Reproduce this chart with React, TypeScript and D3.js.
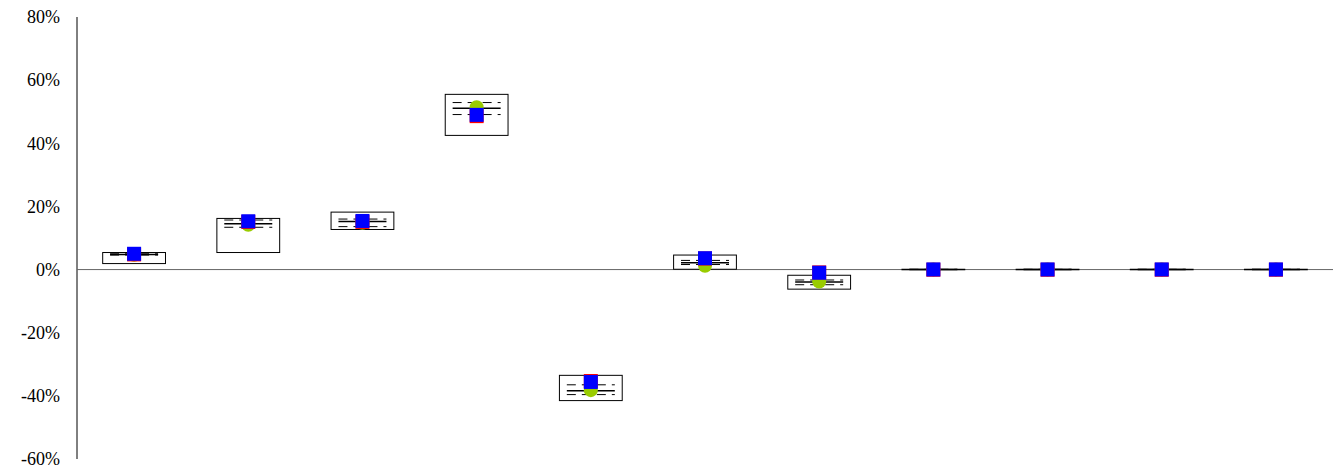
import React from "react";
import * as d3 from "d3";

const categories = ["1", "2", "3", "4", "5", "6", "7", "8", "9", "10", "11"];
// values in percent
const boxLow = [1.9, 5.4, 12.7, 42.5, -41.5, 0.1, -6.2, 0, 0, 0, 0];
const boxHigh = [5.4, 16.2, 18.2, 55.5, -33.5, 4.6, -1.8, 0.1, 0.1, 0.1, 0.1];
const upperLine = [5.0, 15.7, 16.0, 52.9, -36.5, 2.9, -3.3, 0.05, 0.05, 0.05, 0.05];
const midLine = [4.8, 14.5, 15.2, 51.1, -38.4, 2.2, -3.9, 0.05, 0.05, 0.05, 0.05];
const lowerLine = [4.6, 13.4, 13.6, 49.1, -39.6, 1.6, -4.8, 0.05, 0.05, 0.05, 0.05];
const greenVals = [4.7, 14.2, 14.8, 51.4, -38.2, 1.2, -3.8, 0.05, 0.05, 0.05, 0.05];
const redVals = [4.8, 15.1, 15.1, 48.6, -35.3, 3.5, -0.9, -0.05, -0.05, -0.05, -0.05];
const blueVals = [5.0, 15.3, 15.4, 49.0, -35.6, 3.6, -1.0, 0.05, 0.05, 0.05, 0.05];
const yTicks = [80, 60, 40, 20, 0, -20, -40, -60];

const App = () => {
  const width = 1338;
  const height = 469;
  const left = 77;
  const right = 1333;
  const top = 17;
  const bottom = 459;

  const x = d3.scaleBand().domain(categories).range([left, right]);
  const y = d3.scaleLinear().domain([-60, 80]).range([bottom, top]);

  const boxW = x.bandwidth() * 0.55;
  const lineW = 48;
  const sq = 14;

  return (
    <svg
      width={width}
      height={height}
      style={{ position: "absolute", left: 0, top: 0, background: "#fff" }}
    >
      <g fontFamily="'Liberation Serif', 'Times New Roman', serif" fontSize="18">
        {yTicks.map((t) => (
          <text key={t} x={60} y={y(t)} dy="0.35em" textAnchor="end" fill="#000">
            {t}%
          </text>
        ))}
      </g>
      <line x1={left} x2={left} y1={top} y2={bottom} stroke="#000" />
      <line x1={left} x2={right} y1={y(0)} y2={y(0)} stroke="#666" />
      {categories.map((c, i) => {
        const cx = x(c)! + x.bandwidth() / 2;
        const yt = y(boxHigh[i]);
        const yb = y(boxLow[i]);
        return (
          <g key={c}>
            <rect
              x={cx - boxW / 2}
              y={yt}
              width={boxW}
              height={Math.max(yb - yt, 0.5)}
              fill="#fff"
              stroke="#000"
              strokeWidth={1}
            />
            <line
              x1={cx - lineW / 2}
              x2={cx + lineW / 2}
              y1={y(upperLine[i])}
              y2={y(upperLine[i])}
              stroke="#000"
              strokeDasharray="9,6"
            />
            <line
              x1={cx - lineW / 2}
              x2={cx + lineW / 2}
              y1={y(midLine[i])}
              y2={y(midLine[i])}
              stroke="#000"
              strokeWidth={1.5}
            />
            <line
              x1={cx - lineW / 2}
              x2={cx + lineW / 2}
              y1={y(lowerLine[i])}
              y2={y(lowerLine[i])}
              stroke="#000"
              strokeDasharray="9,6"
            />
            <circle cx={cx} cy={y(greenVals[i])} r={7} fill="#99cc00" />
            <rect
              x={cx - sq / 2}
              y={y(redVals[i]) - sq / 2}
              width={sq}
              height={sq}
              fill="#ff0000"
            />
            <rect
              x={cx - sq / 2}
              y={y(blueVals[i]) - sq / 2}
              width={sq}
              height={sq}
              fill="#0000ff"
            />
          </g>
        );
      })}
    </svg>
  );
};

export default App;
